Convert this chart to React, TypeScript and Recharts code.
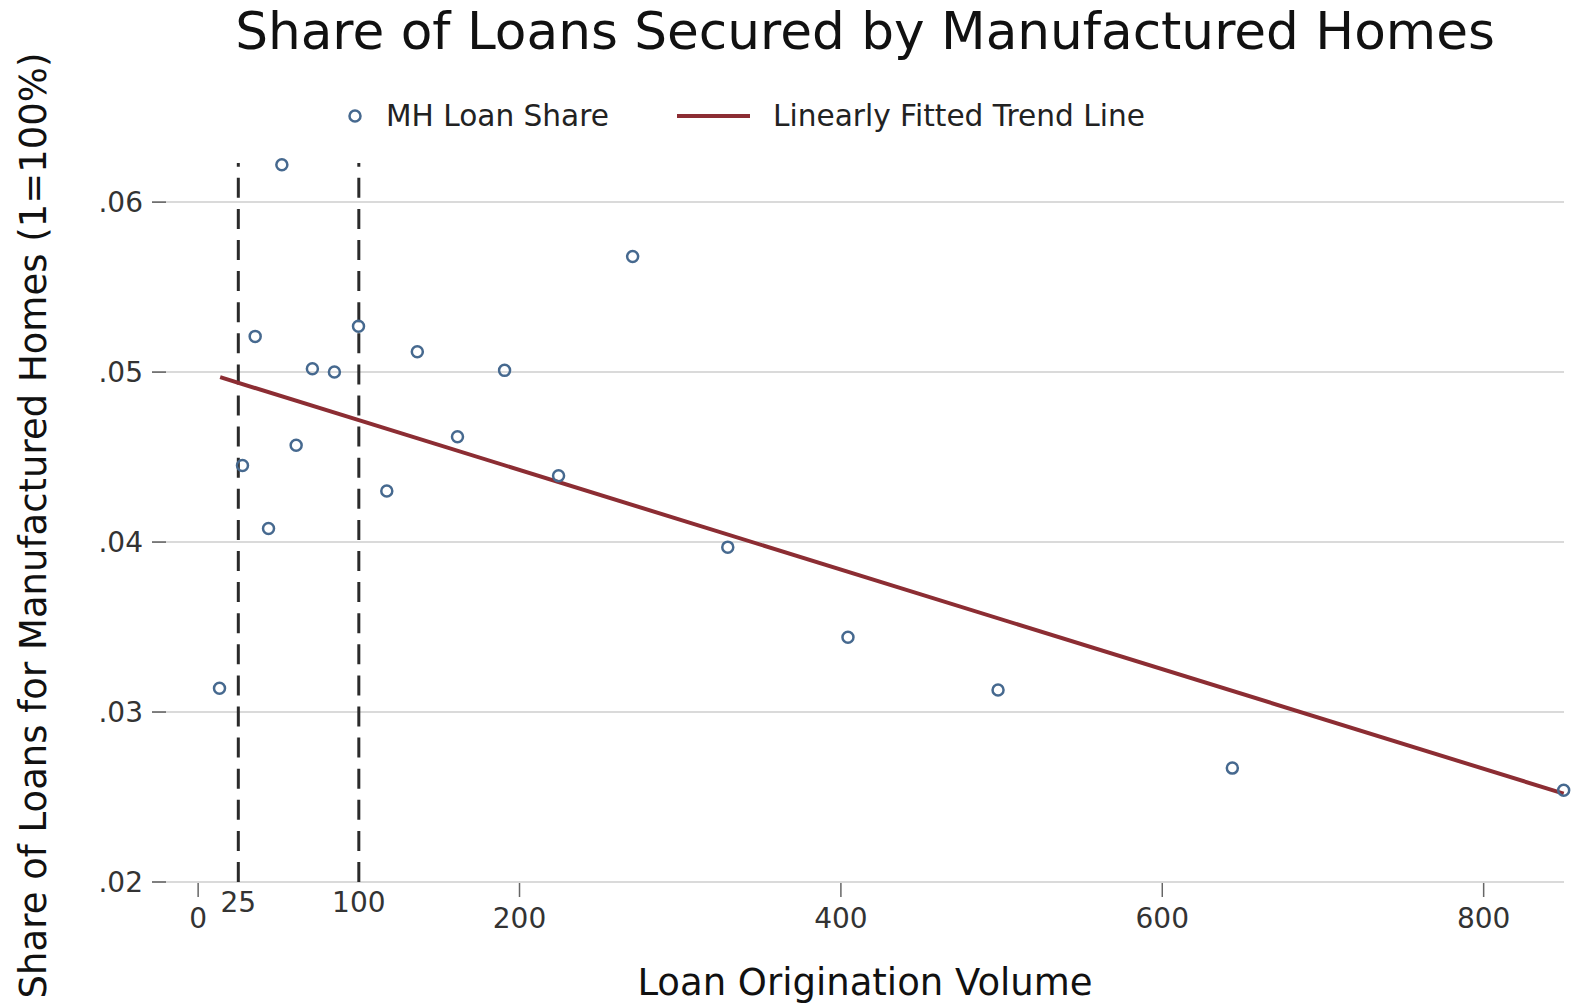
import React from 'react';
import { ScatterChart, Scatter, XAxis, YAxis, CartesianGrid, ReferenceLine, Legend } from 'recharts';

// values
const loanVolume = [13.3, 27.6, 35.5, 43.8, 52.1, 61, 71.1, 84.8, 99.8, 117.4, 136.4, 161.4, 190.7, 224.3, 270.4, 329.6, 404.4, 497.8, 643.6, 849.8];
const mhShare = [0.0314, 0.0445, 0.0521, 0.0408, 0.0622, 0.0457, 0.0502, 0.05, 0.0527, 0.043, 0.0512, 0.0462, 0.0501, 0.0439, 0.0568, 0.0397, 0.0344, 0.0313, 0.0267, 0.0254];
const trendVolume = [13.7, 849.8];
const trendShare = [0.0497, 0.0252];
const cutoffs = [25, 100];
const xTicks = [0, 25, 100, 200, 400, 600, 800];
const yTicks = [0.02, 0.03, 0.04, 0.05, 0.06];

const points = loanVolume.map((v, i) => ({ x: v, y: mhShare[i] }));
const trend = trendVolume.map((v, i) => ({ x: v, y: trendShare[i] }));

const FONT = '"DejaVu Sans", sans-serif';
const BLUE = '#46698f';
const RED = '#8c2d33';

const Dot = (props: any) => (
    <circle cx={props.cx} cy={props.cy} r={5.5} fill="none" stroke={BLUE} strokeWidth={2.5} />
);

const XTick = (props: any) => {
    const { x, y, payload } = props;
    const isCut = cutoffs.includes(payload.value);
    if (isCut) {
        return (
            <text x={x} y={y + 30} textAnchor="middle" fontSize={28} fontFamily={FONT} fill="#333">
                {payload.value}
            </text>
        );
    }
    return (
        <g>
            <line x1={x} y1={y + 1} x2={x} y2={y + 15} stroke="#666" strokeWidth={1.5} />
            <text x={x} y={y + 46} textAnchor="middle" fontSize={28} fontFamily={FONT} fill="#333">
                {payload.value}
            </text>
        </g>
    );
};

const renderLegend = () => (
    <svg width={1571} height={40} style={{ display: 'block' }}>
        <circle cx={355} cy={20} r={5.5} fill="none" stroke={BLUE} strokeWidth={2.5} />
        <text x={386} y={30} fontSize={29.6} fontFamily={FONT} fill="#222">MH Loan Share</text>
        <line x1={677} y1={20} x2={750} y2={20} stroke={RED} strokeWidth={4} />
        <text x={773} y={30} fontSize={29.6} fontFamily={FONT} fill="#222">Linearly Fitted Trend Line</text>
    </svg>
);

const App: React.FC = () => {
    return (
        <div style={{ position: 'absolute', left: 0, top: 0, width: 1571, height: 1006, background: '#fff' }}>
            <div style={{
                position: 'absolute', left: 166, top: -2, width: 1398, height: 66, lineHeight: '66px',
                textAlign: 'center', fontFamily: FONT, fontSize: 51.7, color: '#111', whiteSpace: 'nowrap'
            }}>
                Share of Loans Secured by Manufactured Homes
            </div>
            <ScatterChart width={1571} height={1006} margin={{ top: 163, right: 7, bottom: 0, left: 0 }}>
                <CartesianGrid horizontal vertical={false} horizontalValues={yTicks} stroke="#dadada" strokeWidth={2} />
                <XAxis
                    type="number"
                    dataKey="x"
                    domain={[-20, 850]}
                    ticks={xTicks}
                    interval={0}
                    height={124}
                    axisLine={false}
                    tickLine={false}
                    tickSize={0}
                    tickMargin={0}
                    tick={<XTick />}
                    label={(p: any) => (
                        <text x={p.viewBox.x + p.viewBox.width / 2} y={p.viewBox.y + 113} textAnchor="middle"
                            fontSize={37} fontFamily={FONT} fill="#111">
                            Loan Origination Volume
                        </text>
                    )}
                />
                <YAxis
                    type="number"
                    dataKey="y"
                    domain={[0.02, 0.0623]}
                    ticks={yTicks}
                    interval={0}
                    width={166}
                    axisLine={false}
                    tickLine={{ stroke: '#555', strokeWidth: 1.5 }}
                    tickSize={14}
                    tickMargin={9}
                    tickFormatter={(v: number) => v.toFixed(2).replace(/^0/, '')}
                    tick={{ fontSize: 28, fontFamily: FONT, fill: '#333' }}
                    label={(p: any) => {
                        const cx = 33;
                        const cy = p.viewBox.y + p.viewBox.height / 2 + 3;
                        return (
                            <text x={cx} y={cy} transform={`rotate(-90 ${cx} ${cy})`} textAnchor="middle"
                                dominantBaseline="central" fontSize={37} fontFamily={FONT} fill="#111">
                                Share of Loans for Manufactured Homes (1=100%)
                            </text>
                        );
                    }}
                />
                {cutoffs.map((c) => (
                    <ReferenceLine key={c} x={c} stroke="#2a2a2a" strokeWidth={3} strokeDasharray="20 11.1" />
                ))}
                <Scatter name="Linearly Fitted Trend Line" data={trend} line={{ stroke: RED, strokeWidth: 4 }}
                    shape={() => <g />} isAnimationActive={false} />
                <Scatter name="MH Loan Share" data={points} shape={Dot} isAnimationActive={false} />
                <Legend verticalAlign="middle" align="center" layout="horizontal"
                    wrapperStyle={{ top: 96, left: 0, width: 1571, height: 40 }} content={renderLegend} />
            </ScatterChart>
        </div>
    );
};

export default App;
